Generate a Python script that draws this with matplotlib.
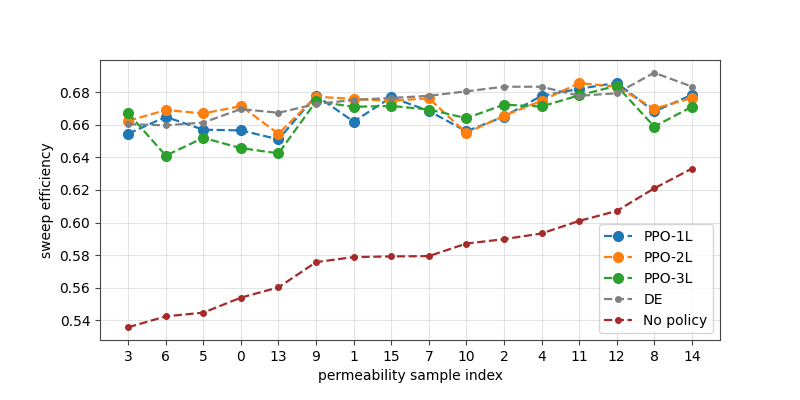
import matplotlib
matplotlib.use("Agg")
import matplotlib.pyplot as plt
import numpy as np

samples = ["3", "6", "5", "0", "13", "9", "1", "15", "7", "10", "2", "4", "11", "12", "8", "14"]

ppo_1l = [0.6545, 0.6649, 0.6570, 0.6566, 0.6511, 0.6780, 0.6620, 0.6769, 0.6686, 0.6560,
          0.6651, 0.6778, 0.6821, 0.6858, 0.6682, 0.6784]
ppo_2l = [0.6624, 0.6691, 0.6670, 0.6715, 0.6545, 0.6773, 0.6759, 0.6748, 0.6763, 0.6550,
          0.6655, 0.6748, 0.6856, 0.6835, 0.6699, 0.6765]
ppo_3l = [0.6672, 0.6411, 0.6520, 0.6457, 0.6425, 0.6744, 0.6711, 0.6716, 0.6694, 0.6641,
          0.6724, 0.6713, 0.6781, 0.6840, 0.6589, 0.6711]
de = [0.6604, 0.6597, 0.6614, 0.6697, 0.6674, 0.6728, 0.6753, 0.6765, 0.6778, 0.6806,
      0.6834, 0.6834, 0.6778, 0.6794, 0.6920, 0.6835]
no_policy = [0.5357, 0.5424, 0.5447, 0.5539, 0.5602, 0.5757, 0.5788, 0.5792, 0.5794, 0.5871,
             0.5898, 0.5933, 0.6010, 0.6071, 0.6210, 0.6331]

fig, ax = plt.subplots(figsize=(8, 4), dpi=100)
fig.subplots_adjust(left=0.125, right=0.9, bottom=0.15, top=0.85)

x = np.arange(len(samples))
ax.plot(x, ppo_1l, "--o", color="tab:blue", ms=7, lw=1.6, label="PPO-1L")
ax.plot(x, ppo_2l, "--o", color="tab:orange", ms=7, lw=1.6, label="PPO-2L")
ax.plot(x, ppo_3l, "--o", color="tab:green", ms=7, lw=1.6, label="PPO-3L")
ax.plot(x, de, "--o", color="gray", ms=4, lw=1.6, label="DE")
ax.plot(x, no_policy, "--o", color="brown", ms=4, lw=1.6, label="No policy")

ax.set_xticks(x)
ax.set_xticklabels(samples)
ax.set_xlabel("permeability sample index")
ax.set_ylabel("sweep efficiency")
ax.grid(True, color="#dddddd", lw=0.8, alpha=0.8)
for s in ax.spines.values():
    s.set_color("#444444")
ax.tick_params(colors="#444444", labelcolor="black")
ax.legend(loc="lower right")

fig.savefig("out.png")
